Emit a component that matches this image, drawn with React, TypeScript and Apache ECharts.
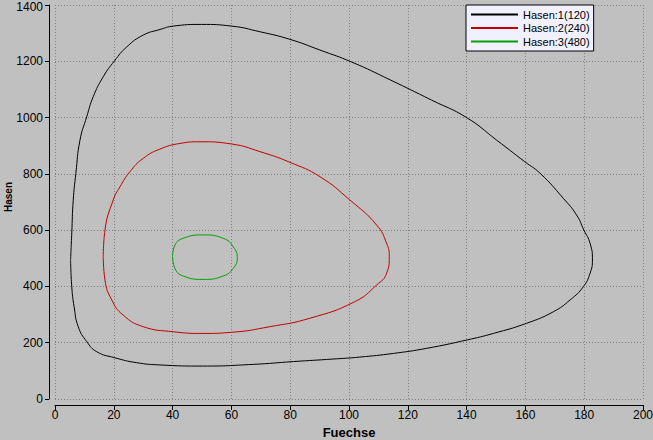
import React, { useEffect, useRef } from "react";
import * as echarts from "echarts";

const seriesNames = ["Hasen:1(120)", "Hasen:2(240)", "Hasen:3(480)"];
const seriesColors = ["#000000", "#c00000", "#00a000"];

const curve1: [number, number][] = [
  [5.3, 494], [5.7, 589], [6.2, 706], [7.1, 802], [8.5, 920], [10.8, 1003],
  [13.0, 1074], [16.4, 1145], [20.2, 1201], [24.4, 1251], [30.0, 1293],
  [35.7, 1313], [40.2, 1325], [49.9, 1331], [60.1, 1325], [69.7, 1305],
  [79.9, 1278], [90.1, 1240], [101.0, 1197], [114.0, 1134], [128.1, 1062],
  [140.0, 1000], [150.2, 920], [159.8, 843], [165.0, 802], [172.9, 713],
  [177.4, 654], [179.9, 600], [182.0, 553], [182.8, 494], [182.0, 447],
  [179.7, 399], [175.2, 352], [169.5, 310], [160.4, 269], [149.1, 233],
  [140.2, 210], [126.4, 180], [115.1, 162], [103.7, 149], [94.6, 142],
  [81.1, 133], [67.4, 123], [50.4, 117], [35.7, 121], [27.8, 129],
  [20.2, 147], [14.2, 168], [10.8, 204], [7.9, 257], [6.5, 328],
  [5.7, 399], [5.3, 494],
];

const curve2: [number, number][] = [
  [16.4, 506], [17.0, 600], [19.8, 707], [22.1, 754], [25.5, 808],
  [30.0, 855], [35.7, 888], [42.5, 908], [49.3, 914], [60.1, 906],
  [69.7, 879], [79.9, 841], [90.1, 790], [100.3, 707],
  [109.4, 618], [112.8, 553], [113.7, 506], [112.8, 447], [109.4, 405],
  [102.0, 346], [86.7, 287], [73.1, 257], [60.1, 237],
  [50.4, 233], [40.2, 239], [30.0, 257], [23.2, 298], [19.3, 352],
  [17.0, 423], [16.4, 506],
];

const curve3: [number, number][] = [
  [40.0, 506], [40.8, 547], [43.6, 571], [50.4, 583], [57.2, 571],
  [60.6, 541], [62.0, 500], [60.6, 464], [57.2, 437], [50.4, 425],
  [43.6, 437], [40.8, 464], [40.0, 506],
];

const curves = [curve1, curve2, curve3];

const xMin = 0, xMax = 200, xStep = 20;
const yMin = 0, yMax = 1400, yStep = 200;

const sans = "'Liberation Sans', Arial, sans-serif";

export default function App() {
  const ref = useRef<HTMLDivElement>(null);
  useEffect(() => {
    if (!ref.current) return;
    const chart = echarts.init(ref.current, null, { renderer: "svg" });
    chart.setOption({
      animation: false,
      backgroundColor: "#c0c0c0",
      grid: { left: 55, right: 10, top: 5, bottom: 41, containLabel: false, outerBoundsMode: "none" },
      graphic: [
        {
          type: "text",
          x: 8,
          y: 197,
          rotation: Math.PI / 2,
          style: {
            text: "Hasen",
            font: "bold 10px 'Liberation Sans', Arial, sans-serif",
            fill: "#000000",
            align: "center",
            verticalAlign: "middle",
          },
        },
      ],
      legend: {
        orient: "vertical",
        left: 466,
        top: 5,
        backgroundColor: "#f0f0ff",
        borderColor: "#000000",
        borderWidth: 1,
        borderRadius: 0,
        padding: [3, 4, 3, 5],
        icon: "rect",
        itemWidth: 47,
        itemHeight: 2,
        itemGap: 0.5,
        textStyle: { fontFamily: sans, fontSize: 11, lineHeight: 13, color: "#000000" },
        data: seriesNames,
      },
      xAxis: {
        type: "value",
        min: xMin,
        max: xMax,
        interval: xStep,
        offset: 6,
        name: "Fuechse",
        nameLocation: "middle",
        nameGap: 20,
        nameTextStyle: { fontFamily: sans, fontWeight: "bold", fontSize: 13, color: "#000000" },
        axisLine: { show: true, onZero: false, lineStyle: { color: "#000000", width: 1 } },
        axisTick: { show: true, length: 5, lineStyle: { color: "#000000" } },
        axisLabel: { fontFamily: sans, fontSize: 12, color: "#000000", margin: 4, formatter: (v: number) => String(v) },
        splitLine: { show: true, lineStyle: { color: "#808080", type: [1, 2], width: 1 } },
      },
      yAxis: {
        type: "value",
        min: yMin,
        max: yMax,
        interval: yStep,
        offset: 6,
        axisLine: { show: true, onZero: false, lineStyle: { color: "#000000", width: 1 } },
        axisTick: { show: true, length: 4, lineStyle: { color: "#000000" } },
        axisLabel: {
          fontFamily: sans,
          fontSize: 12,
          color: "#000000",
          margin: 6,
          formatter: (v: number) => (v === yMax ? "{top|" + v + "}" : String(v)),
          rich: { top: { fontFamily: sans, fontSize: 12, color: "#000000", padding: [4, 0, 0, 0] } },
        },
        splitLine: { show: true, lineStyle: { color: "#808080", type: [1, 2], width: 1 } },
      },
      series: curves.map((c, i) => ({
        name: seriesNames[i],
        type: "line",
        data: c,
        symbol: "none",
        smooth: 0.5,
        color: seriesColors[i],
        itemStyle: { color: seriesColors[i] },
        lineStyle: { color: seriesColors[i], width: 1 },
      })),
    });
    return () => chart.dispose();
  }, []);
  return (
    <div
      ref={ref}
      style={{ position: "fixed", left: 0, top: 0, width: 653, height: 440 }}
    />
  );
}
